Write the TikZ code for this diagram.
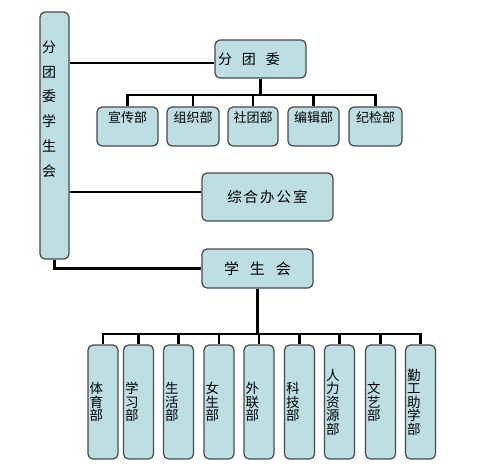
\documentclass[tikz,border=0pt]{standalone}
\usepackage{fontspec}
\newfontfamily\cjk{Noto Sans CJK SC}
\usepackage{xcolor}

\definecolor{boxfill}{RGB}{189,223,227}
\definecolor{boxline}{RGB}{72,72,72}
\tikzset{
  orgbox/.style={draw=boxline, fill=boxfill, line width=1.2pt, rounded corners=5pt,
    inner sep=0pt, font=\cjk\fontsize{14}{14}\selectfont},
  deptbox/.style={orgbox, minimum height=39pt, text height=15.9pt, text depth=23.1pt,
    font=\cjk\fontsize{13}{13}\selectfont},
  tallbox/.style={orgbox, minimum width=30pt, minimum height=114pt, text width=27pt,
    align=left, inner xsep=1.5pt, font=\cjk\fontsize{13.5}{13.5}\selectfont},
  link/.style={line width=2.6pt},
  mainlink/.style={line width=3.6pt},
}

\begin{document}
\begin{tikzpicture}[x=1pt, y=-1pt]
  \useasboundingbox (0,0) rectangle (485,476);

  % Left column
  \node[orgbox, minimum width=29pt, minimum height=247pt] (fenxue) at (54.5,135.5)
    {\parbox[c][247pt][t]{29pt}{\fontsize{14}{24.7}\selectfont\vspace*{29pt}%
      \raggedright\leftskip=2pt 分\\团\\委\\学\\生\\会}};

  % Fen tuan wei and its departments
  \node[orgbox, minimum height=38pt, text width=85pt, align=left, inner xsep=3pt]
    (fentuanwei) at (260.5,59) {分\hspace{10pt}团\hspace{10pt}委};
  \node[deptbox, minimum width=61pt] (xuanchuan) at (127.5,126.5) {宣传部};
  \node[deptbox, minimum width=52pt] (zuzhi) at (193,126.5) {组织部};
  \node[deptbox, minimum width=50pt] (shetuan) at (253,126.5) {社团部};
  \node[deptbox, minimum width=51pt] (bianji) at (313.5,126.5) {编辑部};
  \node[deptbox, minimum width=53pt] (jijian) at (375.5,126.5) {纪检部};

  % Office
  \node[orgbox, minimum width=131pt, minimum height=48pt, font=\cjk\fontsize{14.5}{14.5}\selectfont]
    (zonghe) at (267.5,197) {综\hspace{2pt}合\hspace{2pt}办\hspace{2pt}公\hspace{2pt}室};

  % Student union and its departments
  \node[orgbox, minimum width=111pt, minimum height=39pt, font=\cjk\fontsize{15}{15}\selectfont]
    (xueshenghui) at (257.5,268.5) {学\hspace{11pt}生\hspace{11pt}会};
  \node[tallbox] (tiyu) at (103,402) {体\\育\\部};
  \node[tallbox] (xuexi) at (138.5,402) {学\\习\\部};
  \node[tallbox] (shenghuo) at (178.5,402) {生\\活\\部};
  \node[tallbox] (nvsheng) at (219,402) {女\\生\\部};
  \node[tallbox] (wailian) at (259,402) {外\\联\\部};
  \node[tallbox] (keji) at (299.5,402) {科\\技\\部};
  \node[tallbox] (renli) at (339.5,402) {人\\力\\资\\源\\部};
  \node[tallbox] (wenyi) at (380.5,402) {文\\艺\\部};
  \node[tallbox] (qingong) at (420.5,402) {勤\\工\\助\\学\\部};

  % Bars
  \coordinate (tuanbar) at (0,95);
  \coordinate (xuebar) at (0,334);

  % Left column links
  \draw[link] ([yshift=-4pt]fentuanwei.west) -- ([yshift=-4pt]fentuanwei.west -| fenxue.east);
  \draw[link] ([yshift=5pt]zonghe.west) -- ([yshift=5pt]zonghe.west -| fenxue.east);
  \draw[link] (fenxue.south) |- (xueshenghui.west);

  % Fen tuan wei tree
  \draw[link] (fentuanwei.south) -- (fentuanwei.south |- tuanbar);
  \draw[link] (xuanchuan.north) -- (xuanchuan.north |- tuanbar) -- (jijian.north |- tuanbar) -- (jijian.north);
  \draw[link] (zuzhi.north) -- (zuzhi.north |- tuanbar);
  \draw[link] (shetuan.north) -- (shetuan.north |- tuanbar);
  \draw[link] (bianji.north) -- (bianji.north |- tuanbar);

  % Student union tree
  \draw[mainlink] (xueshenghui.south) -- (xueshenghui.south |- xuebar);
  \draw[link] (tiyu.north) -- (tiyu.north |- xuebar) -- (qingong.north |- xuebar) -- (qingong.north);
  \draw[link] (xuexi.north) -- (xuexi.north |- xuebar);
  \draw[link] (shenghuo.north) -- (shenghuo.north |- xuebar);
  \draw[link] (nvsheng.north) -- (nvsheng.north |- xuebar);
  \draw[link] (wailian.north) -- (wailian.north |- xuebar);
  \draw[link] (keji.north) -- (keji.north |- xuebar);
  \draw[link] (renli.north) -- (renli.north |- xuebar);
  \draw[link] (wenyi.north) -- (wenyi.north |- xuebar);
\end{tikzpicture}
\end{document}
